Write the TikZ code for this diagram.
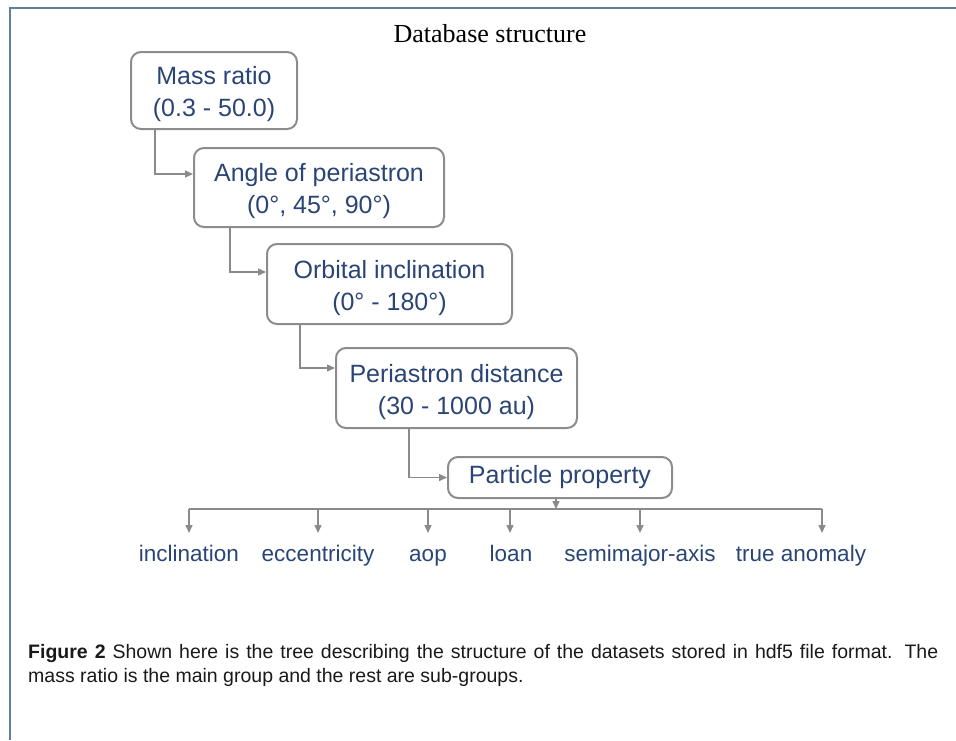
\documentclass[tikz,border=0pt]{standalone}
\usepackage{fontspec}
\setmainfont{Liberation Sans}
\newfontfamily\titlefont{Liberation Serif}
\usepackage{xcolor}
\usetikzlibrary{arrows.meta}

\definecolor{navy}{HTML}{2A4575}
\definecolor{boxgray}{HTML}{8C8C8C}
\definecolor{wiregray}{HTML}{8A8A8A}
\definecolor{frameblue}{HTML}{5E7FA0}

\begin{document}
\begin{tikzpicture}[x=1pt,y=-1pt,
                    grp/.style n args={2}{draw=boxgray,line width=2pt,
                    minimum width=#1pt,
                    minimum height=#2pt,
                    rounded corners=10pt,
                    align=center,text=navy,inner sep=0pt,
                    font=\fontsize{25}{32}\selectfont},
                    two/.style={text height=58pt},
                    leaf/.style={text=navy,anchor=base,font=\fontsize{22.5}{26}\selectfont},
                    capt/.style={anchor=base west,inner xsep=0pt,text=black!90,font=\fontsize{19.5}{24}\selectfont},
                    link/.style={draw=wiregray,line width=1.5pt,-{Triangle[length=8pt,width=7pt]}},
                    wire/.style={draw=wiregray,line width=1.5pt}]
    \useasboundingbox (0,0) rectangle (956,740);
    \draw[frameblue,line width=2pt] (956,7.5) -- (9.5,7.5) -- (9.5,740);
    \node[anchor=base,font=\titlefont\fontsize{26}{30}\selectfont](title) at (490,42.5) {Database structure};

    % the nested groups
    \node[grp={166}{77},two](mass) at (214,90.5) {Mass ratio\\(0.3 - 50.0)};
    \node[grp={250}{79},two](angle) at (319,187.5) {Angle of periastron\\(0°, 45°, 90°)};
    \node[grp={245}{80},two](orbit) at (389.5,284) {Orbital inclination\\(0° - 180°)};
    \node[grp={241}{80},two](peri) at (456.5,388) {Periastron distance\\(30 - 1000 au)};
    \node[grp={224}{41}](part) at (560,477.5) {Particle property};

    \draw[link] ([xshift=25pt]mass.south west) |- ([yshift=13.5pt]angle.west);
    \draw[link] ([xshift=37pt]angle.south west) |- ([yshift=12pt]orbit.west);
    \draw[link] ([xshift=34pt]orbit.south west) |- ([yshift=20pt]peri.west);
    \draw[link] ([xshift=74pt]peri.south west) |- (part.west);

    % datasets
    \coordinate (bus) at (0,509);
    \foreach \nm/\ax/\lx/\txt in {incl/189/189/inclination,ecc/318/318/eccentricity,
        aop/428/428/aop,loan/510/511/loan,semi/640/640/semimajor-axis,anom/822/801/true anomaly}{
        \node[leaf](\nm) at (\lx,561) {\txt};
        \coordinate (\nm-t) at (\ax,533);
        \draw[link] (\nm-t |- bus) -- (\nm-t);
    }
    \draw[wire] (incl-t |- bus) -- (anom-t |- bus);
    \draw[link] ([xshift=-4pt]part.south) -- ([xshift=-4pt]part.south |- bus);

    \node[capt](cap1) at (28,658)
        {\makebox[910pt][s]{\textbf{Figure 2} Shown here is the tree describing the structure of the datasets stored in hdf5 file format. The}};
    \node[capt](cap2) at (28,682)
        {mass ratio is the main group and the rest are sub-groups.};
\end{tikzpicture}
\end{document}
